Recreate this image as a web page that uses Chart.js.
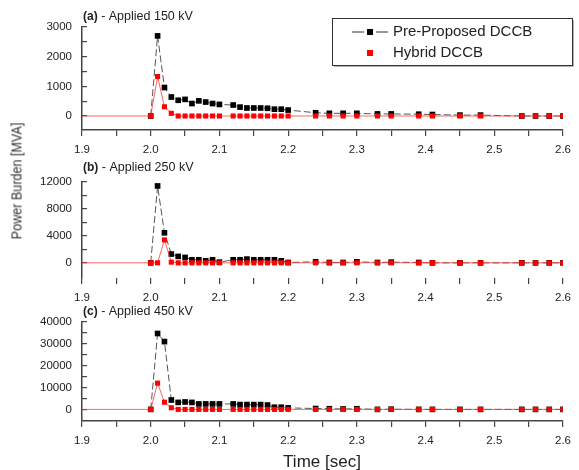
<!DOCTYPE html>
<html lang="en">
<head>
<meta charset="utf-8" />
<title>Power Burden vs Time</title>
<script src="https://cdn.jsdelivr.net/npm/chart.js"></script>
<style>
  body { margin: 0; background: #fff; font-family: "Liberation Sans", Arial, sans-serif; color: #222; }
  #wrap { position: relative; width: 579px; height: 470px; overflow: hidden; }
  canvas { position: absolute; left: 0; }
  #yTitle { position: absolute; left: 16px; top: 181px; transform: translate(-50%, -50%) rotate(-90deg) scaleX(0.84); white-space: nowrap; font-size: 15px; color: #333; }
  #xTitle { position: absolute; left: 322px; top: 462px; transform: translate(-50%, -50%); white-space: nowrap; font-size: 17px; color: #222; }
</style>
</head>
<body>
<div id="wrap">
  <canvas id="panelA" width="579" height="160" style="top:0px"></canvas>
  <canvas id="panelB" width="579" height="148" style="top:160px"></canvas>
  <canvas id="panelC" width="579" height="151" style="top:300px"></canvas>
  <div id="yTitle">Power Burden [MVA]</div>
  <div id="xTitle">Time [sec]</div>
</div>
<script>
// time stamps (sec) shared by all panels
const times = [1.90, 2.00, 2.01, 2.02, 2.03, 2.04, 2.05, 2.06, 2.07, 2.08, 2.09, 2.10,
  2.12, 2.13, 2.14, 2.15, 2.16, 2.17, 2.18, 2.19, 2.20,
  2.24, 2.26, 2.28, 2.30, 2.33, 2.35, 2.39, 2.41, 2.45, 2.48, 2.54, 2.56, 2.58, 2.60];

// (a) 150 kV
const preA = [null, 0, 2700, 960, 640, 530, 560, 420, 510, 470, 420, 390,
  370, 300, 270, 270, 270, 260, 230, 230, 200,
  110, 90, 90, 90, 70, 70, 60, 50, 30, 30, 0, 0, 0, 0];
const hybA = [0, 0, 1330, 310, 90, 0, 0, 0, 0, 0, 0, 0,
  0, 0, 0, 0, 0, 0, 0, 0, 0,
  0, 0, 0, 0, 0, 0, 0, 0, 0, 0, 0, 0, 0, 0];

// (b) 250 kV
const preB = [null, 0, 11400, 4450, 1300, 950, 800, 450, 450, 300, 450, 100,
  450, 450, 550, 450, 450, 450, 450, 300, 50,
  150, 50, 50, 150, 50, 100, 50, 0, 0, 0, 0, 0, 0, 0];
const hybB = [0, 0, 0, 3400, 100, 0, 0, 0, 0, 0, 0, 0,
  0, 0, 0, 0, 0, 0, 0, 0, 0,
  0, 0, 0, 0, 0, 0, 0, 0, 0, 0, 0, 0, 0, 0];

// (c) 450 kV
const preC = [null, 0, 34700, 31000, 4300, 3200, 3400, 3200, 2500, 2500, 2500, 2500,
  2500, 2200, 2200, 2200, 2200, 2000, 1000, 1000, 700,
  400, 300, 200, 300, 0, 100, 0, 0, 0, 0, 0, 0, 0, 0];
const hybC = [0, 0, 12000, 3300, 750, 0, 0, 0, 0, 0, 0, 0,
  0, 0, 0, 0, 0, 0, 0, 0, 0,
  0, 0, 0, 0, 0, 0, 0, 0, 0, 0, 0, 0, 0, 0];

// axis ticks (all tick marks) and the ones that carry a label
const xTickMarks = [1.9, 1.95, 2.0, 2.05, 2.1, 2.15, 2.2, 2.25, 2.3, 2.35, 2.4, 2.45, 2.5, 2.55, 2.6];
const xTickLabels = [1.9, 2.0, 2.1, 2.2, 2.3, 2.4, 2.5, 2.6];
const yTickMarksA = [0, 500, 1000, 1500, 2000, 2500, 3000];
const yTickLabelsA = [0, 1000, 2000, 3000];
const yTickMarksB = [0, 2000, 4000, 6000, 8000, 10000, 12000];
const yTickLabelsB = [0, 4000, 8000, 12000];
const yTickMarksC = [0, 5000, 10000, 15000, 20000, 25000, 30000, 35000, 40000];
const yTickLabelsC = [0, 10000, 20000, 30000, 40000];

const seriesNames = ['Pre-Proposed DCCB', 'Hybrid DCCB'];

const FONT = '"Liberation Sans", Arial, sans-serif';
const AXIS = '#444';

// panel label "(a) - Applied 150 kV" and the legend box on the top panel
const panelText = {
  id: 'panelText',
  afterDraw(chart, args, opts) {
    const ctx = chart.ctx;
    const left = chart.chartArea.left + 1;
    ctx.save();
    ctx.fillStyle = '#222';
    ctx.textBaseline = 'middle';
    ctx.font = 'bold 12px ' + FONT;
    ctx.fillText(opts.tag, left, opts.y);
    const w = ctx.measureText(opts.tag).width;
    ctx.font = '12.5px ' + FONT;
    ctx.fillText(' - ' + opts.text, left + w, opts.y);

    if (opts.legend) {
      const b = opts.legend;
      ctx.fillStyle = '#fff';
      ctx.fillRect(b.x, b.y, b.w, b.h);
      ctx.strokeStyle = '#999';
      ctx.lineWidth = 1.5;
      ctx.beginPath();
      ctx.moveTo(b.x + b.w + 1, b.y + 2);
      ctx.lineTo(b.x + b.w + 1, b.y + b.h + 1);
      ctx.lineTo(b.x + 2, b.y + b.h + 1);
      ctx.stroke();
      ctx.strokeStyle = '#333';
      ctx.lineWidth = 1;
      ctx.strokeRect(b.x + 0.5, b.y + 0.5, b.w, b.h);

      const sx = b.x + 38, r1 = b.y + 14, r2 = b.y + 35;
      ctx.strokeStyle = '#333';
      ctx.beginPath();
      ctx.moveTo(sx - 18, r1); ctx.lineTo(sx - 6, r1);
      ctx.moveTo(sx + 6, r1); ctx.lineTo(sx + 18, r1);
      ctx.stroke();
      ctx.fillStyle = '#000';
      ctx.fillRect(sx - 3, r1 - 3, 6, 6);
      ctx.fillStyle = '#ff0000';
      ctx.fillRect(sx - 3, r2 - 3, 6, 6);

      ctx.fillStyle = '#222';
      ctx.font = '15px ' + FONT;
      ctx.fillText(seriesNames[0], b.x + 61, r1);
      ctx.fillText(seriesNames[1], b.x + 61, r2);
    }
    ctx.restore();
  }
};

function toPoints(vals) {
  return vals.map((v, i) => ({ x: times[i], y: v }));
}

function hasValue(list, v) {
  return list.some(k => Math.abs(k - v) < 1e-6);
}

function makePanel(id, pre, hyb, yMin, yMax, yMarks, yLabels, padTop, label, xBorder) {
  new Chart(document.getElementById(id), {
    type: 'line',
    data: {
      datasets: [
        {
          label: seriesNames[1],
          data: toPoints(hyb),
          borderColor: 'rgba(255, 50, 50, 0.75)',
          backgroundColor: '#ff0000',
          borderWidth: 1,
          pointStyle: 'rect',
          pointRadius: hyb.map((v, i) => i === 0 ? 0 : 3.6),
          pointBorderWidth: 0,
          pointBackgroundColor: '#ff0000',
          tension: 0
        },
        {
          label: seriesNames[0],
          data: toPoints(pre),
          borderColor: '#555',
          borderWidth: 1,
          borderDash: [7, 3],
          pointStyle: 'rect',
          pointRadius: 4,
          pointBorderWidth: 0,
          pointBackgroundColor: '#000',
          tension: 0
        }
      ]
    },
    options: {
      responsive: false,
      animation: false,
      layout: { padding: { left: 30, right: 16, top: padTop, bottom: 0 } },
      plugins: {
        legend: { display: false },
        tooltip: { enabled: false },
        panelText: label
      },
      scales: {
        x: {
          type: 'linear',
          min: 1.9,
          max: 2.6,
          afterBuildTicks(s) { s.ticks = xTickMarks.map(v => ({ value: v })); },
          afterFit(s) { s.height = 30; },
          border: { display: xBorder, color: AXIS, width: 1.5 },
          grid: { drawOnChartArea: false, tickLength: 6, color: AXIS, lineWidth: 1.2 },
          ticks: {
            autoSkip: false,
            maxRotation: 0,
            padding: 7,
            color: '#222',
            font: { family: FONT, size: 11.5 },
            callback: v => hasValue(xTickLabels, v) ? v.toFixed(1) : ''
          }
        },
        y: {
          min: yMin,
          max: yMax,
          afterBuildTicks(s) { s.ticks = yMarks.map(v => ({ value: v })); },
          afterFit(s) { s.width = 52; },
          border: { display: true, color: AXIS, width: 1.5 },
          grid: { drawOnChartArea: false, tickLength: -5, color: AXIS, lineWidth: 1.2 },
          ticks: {
            autoSkip: false,
            padding: 15,
            color: '#222',
            font: { family: FONT, size: 11.5 },
            callback: v => hasValue(yLabels, v) ? String(v) : ''
          }
        }
      }
    },
    plugins: [panelText]
  });
}

makePanel('panelA', preA, hybA, -472, 3000, yTickMarksA, yTickLabelsA, 27,
  { tag: '(a)', text: 'Applied 150 kV', y: 17, legend: { x: 332, y: 18, w: 240, h: 47 } }, true);
makePanel('panelB', preB, hybB, -2250, 12000, yTickMarksB, yTickLabelsB, 21,
  { tag: '(b)', text: 'Applied 250 kV', y: 8 }, false);
makePanel('panelC', preC, hybC, -5300, 40000, yTickMarksC, yTickLabelsC, 18,
  { tag: '(c)', text: 'Applied 450 kV', y: 12 }, true);
</script>
</body>
</html>
